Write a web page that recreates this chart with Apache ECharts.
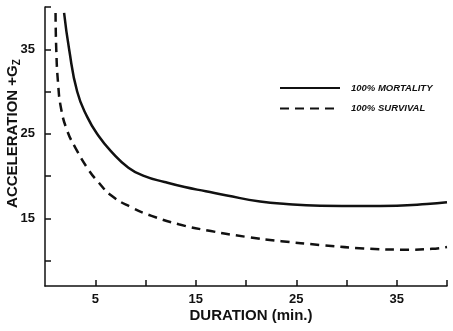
<!DOCTYPE html>
<html><head><meta charset="utf-8">
<script src="https://cdn.jsdelivr.net/npm/echarts@6/dist/echarts.min.js"></script>
<style>html,body{margin:0;padding:0;background:#fff}#c{width:453px;height:331px}</style>
</head><body><div id="c"></div>
<script>
var mortalityX = [1.9, 2.4, 3.2, 4.2, 5.3, 6.6, 8.3, 9.9, 11.9, 13.9, 16, 18.1, 21.4, 24, 27.4, 31.7, 35, 38, 40];
var mortalityY = [39.3, 35.0, 30.0, 27.0, 24.8, 22.9, 21.0, 20.0, 19.3, 18.7, 18.2, 17.7, 17.0, 16.7, 16.5, 16.45, 16.5, 16.7, 16.9];
var survivalX = [1.05, 1.12, 1.3, 1.6, 2.2, 3.0, 4.3, 5.3, 6.6, 8.6, 10.6, 13.3, 16.5, 20.1, 23.5, 27.4, 31.7, 36.3, 38.5, 40];
var survivalY = [39.3, 35.0, 31.0, 28.0, 25.4, 23.4, 20.8, 19.3, 17.7, 16.3, 15.3, 14.3, 13.5, 12.8, 12.3, 11.85, 11.45, 11.3, 11.4, 11.6];
var xTicks = [5, 10, 15, 20, 25, 30, 35, 40];
var xLabels = [5, 15, 25, 35];
var yTicks = [10, 15, 20, 25, 30, 35, 40];
var yLabels = [15, 25, 35];
var seriesNames = ['100% MORTALITY', '100% SURVIVAL'];

function pairs(xs, ys) { return xs.map(function (x, i) { return [x, ys[i]]; }); }

var ink = '#111';
var font = '"Liberation Sans", Arial, Helvetica, sans-serif';
var chart = echarts.init(document.getElementById('c'), null, { renderer: 'canvas' });
chart.setOption({
  animation: false,
  backgroundColor: '#fff',
  grid: { left: 45, right: 6, top: 7, bottom: 45, containLabel: false, outerBoundsMode: 'none' },
  legend: {
    orient: 'vertical', left: 274, top: 78, itemWidth: 60, itemHeight: 12, itemGap: 10.5,
    data: seriesNames,
    itemStyle: { opacity: 0 },
    textStyle: { fontFamily: font, fontWeight: 'bold', fontStyle: 'italic', fontSize: 9.5, color: ink, padding: [0, 0, 0, 6] }
  },
  xAxis: {
    type: 'value', min: 0, max: 40, interval: 5,
    name: 'DURATION (min.)', nameLocation: 'middle', nameGap: 22, nameMoveOverlap: false,
    nameTextStyle: { fontFamily: font, fontWeight: 'bold', fontSize: 15, color: ink, padding: [0, 0, 0, 10] },
    axisLine: { lineStyle: { color: ink, width: 1.5 } },
    axisTick: { inside: true, length: 6, lineStyle: { color: ink, width: 1.5 }, customValues: xTicks },
    axisLabel: { customValues: xLabels, margin: 7, fontFamily: font, fontWeight: 'bold', fontSize: 13, color: ink },
    splitLine: { show: false }
  },
  yAxis: {
    type: 'value', min: 7, max: 40,
    name: 'ACCELERATION +G{sub|Z}', nameLocation: 'middle', nameGap: 23, nameMoveOverlap: false,
    nameTextStyle: { fontFamily: font, fontWeight: 'bold', fontSize: 15, color: ink, padding: [0, 0, 0, 26],
      rich: { sub: { fontFamily: font, fontWeight: 'bold', fontSize: 10, color: ink, verticalAlign: 'bottom', padding: [8, 0, 0, 0] } } },
    axisLine: { lineStyle: { color: ink, width: 1.5 } },
    axisTick: { inside: true, length: 6, lineStyle: { color: ink, width: 1.5 }, customValues: yTicks },
    axisLabel: { customValues: yLabels, margin: 10, fontFamily: font, fontWeight: 'bold', fontSize: 13, color: ink },
    splitLine: { show: false }
  },
  series: [
    { name: seriesNames[0], type: 'line', smooth: 0.5, symbol: 'none', data: pairs(mortalityX, mortalityY),
      lineStyle: { color: ink, width: 2.5 }, itemStyle: { color: ink } },
    { name: seriesNames[1], type: 'line', smooth: 0.5, symbol: 'none', data: pairs(survivalX, survivalY),
      lineStyle: { color: ink, width: 2.5, type: [9, 6] }, itemStyle: { color: ink } }
  ]
});
</script></body></html>
